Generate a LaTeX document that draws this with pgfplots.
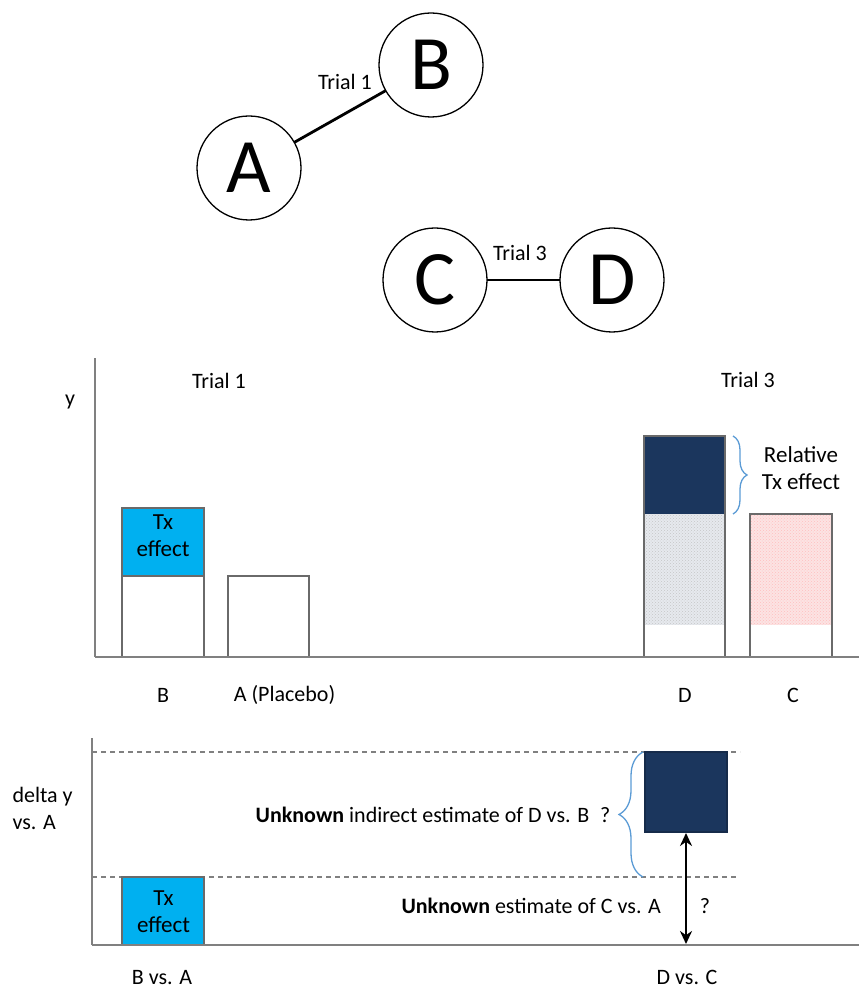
\documentclass[border=0pt]{standalone}
\usepackage{fontspec}
\setmainfont{Carlito}
\usepackage{pgfplots}
\pgfplotsset{compat=1.18}
\usetikzlibrary{patterns,decorations.pathreplacing,arrows.meta}

\definecolor{txblue}{HTML}{00B0F0}
\definecolor{navy}{HTML}{1B365D}
\definecolor{barline}{HTML}{6A6A6A}
\definecolor{axisgray}{HTML}{808080}
\definecolor{bracecol}{HTML}{5B9BD5}
\definecolor{dotgray}{HTML}{E6E9EE}
\definecolor{dotpink}{HTML}{FCE3E3}

\newcommand\lbl{\fontsize{22}{27}\selectfont}
\newcommand\bigletter{\fontsize{77}{77}\selectfont}

\begin{document}
\begin{tikzpicture}[x=1pt, y=1pt, font=\lbl,
    trial/.style={circle, draw, fill=white, line width=1.3pt, minimum size=104pt, inner sep=0pt, font=\bigletter}]
\useasboundingbox (0,0) rectangle (859,991);

% network of trials
\begin{axis}[at={(0,661)}, anchor=south west, x=1pt, y=1pt,
    xmin=0, xmax=859, ymin=661, ymax=991, hide axis, clip=false]
\addplot[black, line width=2.8pt] coordinates {(249,823) (431,926)};
\addplot[black, line width=2.4pt] coordinates {(435,711) (612,711)};
\node[trial] at (axis cs:249,823) {A};
\node[trial] at (axis cs:431,926) {B};
\node[trial] at (axis cs:435,711) {C};
\node[trial] at (axis cs:612,711) {D};
\node at (axis cs:345,909) {Trial 1};
\node at (axis cs:520,738) {Trial 3};
\end{axis}

% absolute outcome y
\begin{axis}[at={(95,334)}, anchor=south west, x=1pt, y=1pt,
    xmin=0, xmax=764, ymin=0, ymax=299,
    axis x line*=bottom, axis y line*=left,
    axis line style={-, draw=axisgray, line width=1.6pt},
    ticks=none, clip=false, axis on top]
% B: placebo level + treatment effect
\addplot[fill=txblue, draw=none] coordinates {(27,81) (109,81) (109,149) (27,149)} -- cycle;
\addplot[draw=barline, line width=1.2pt] coordinates {(27,0) (27,149) (109,149) (109,0)};
\addplot[draw=barline, line width=1.2pt] coordinates {(27,81) (109,81)};
% A (placebo)
\addplot[draw=barline, line width=1.2pt] coordinates {(133,0) (133,81) (214,81) (214,0)};
% D
\addplot[fill=dotgray, draw=none, postaction={pattern=crosshatch dots, pattern color=gray!45}] coordinates {(549,32) (630,32) (630,143) (549,143)} -- cycle;
\addplot[fill=navy, draw=none] coordinates {(549,143) (630,143) (630,221) (549,221)} -- cycle;
\addplot[draw=barline, line width=1.2pt] coordinates {(549,0) (549,221) (630,221) (630,0)};
% C
\addplot[fill=dotpink, draw=none, postaction={pattern=crosshatch dots, pattern color=red!25}] coordinates {(655,32) (737,32) (737,143) (655,143)} -- cycle;
\addplot[draw=barline, line width=1.2pt] coordinates {(655,0) (655,143) (737,143) (737,0)};

\draw[decorate, decoration={brace, amplitude=14pt}, bracecol, line width=1.3pt]
    (axis cs:638,221) -- (axis cs:638,143);
\node[align=center, font=\fontsize{23}{27}\selectfont] at (axis cs:706,189) {Relative\\Tx effect};
\node[align=center, font=\fontsize{23}{27}\selectfont] at (axis cs:68,121) {Tx\\effect};
\node at (axis cs:124,276) {Trial 1};
\node at (axis cs:653,277) {Trial 3};
\node at (axis cs:-25,255) {y};
\node at (axis cs:68,-38) {B};
\node at (axis cs:189.5,-38) {A (Placebo)};
\node at (axis cs:590,-38) {D};
\node at (axis cs:698,-38) {C};
\end{axis}

% difference vs. A
\begin{axis}[at={(92,46)}, anchor=south west, x=1pt, y=1pt,
    xmin=0, xmax=767, ymin=0, ymax=207,
    axis x line*=bottom, axis y line*=left,
    axis line style={-, draw=axisgray, line width=1.6pt},
    ticks=none, clip=false, axis on top]
\addplot[axisgray, line width=1.1pt, dash pattern=on 5pt off 4pt] coordinates {(0,193) (648,193)};
\addplot[axisgray, line width=1.1pt, dash pattern=on 5pt off 4pt] coordinates {(0,68) (645,68)};
\addplot[fill=txblue, draw=barline, line width=1.2pt] coordinates {(30,0) (112,0) (112,68) (30,68)} -- cycle;
\addplot[fill=navy, draw=navy!80!black, line width=1.2pt] coordinates {(553,113) (635,113) (635,193) (553,193)} -- cycle;
\addplot[black, line width=2.6pt, {Stealth[length=13pt,width=12pt]}-{Stealth[length=13pt,width=12pt]}] coordinates {(594,1) (594,112)};

\draw[decorate, decoration={brace, amplitude=24pt}, bracecol, line width=1.3pt]
    (axis cs:551,68) -- (axis cs:551,193);
\node[anchor=east] at (axis cs:522,130) {\textbf{Unknown} indirect estimate of D vs. B\enspace ?};
\node[anchor=west] at (axis cs:306,39) {\textbf{Unknown} estimate of C vs. A};
\node at (axis cs:613,39) {?};
\node[align=center, font=\fontsize{23}{27}\selectfont] at (axis cs:71.5,33.5) {Tx\\effect};
\node[anchor=west, align=left] at (axis cs:-83,136.5) {delta y\\vs. A};
\node[anchor=base] at (axis cs:70,-39) {B vs. A};
\node[anchor=base] at (axis cs:595,-39) {D vs. C};
\end{axis}
\end{tikzpicture}
\end{document}
